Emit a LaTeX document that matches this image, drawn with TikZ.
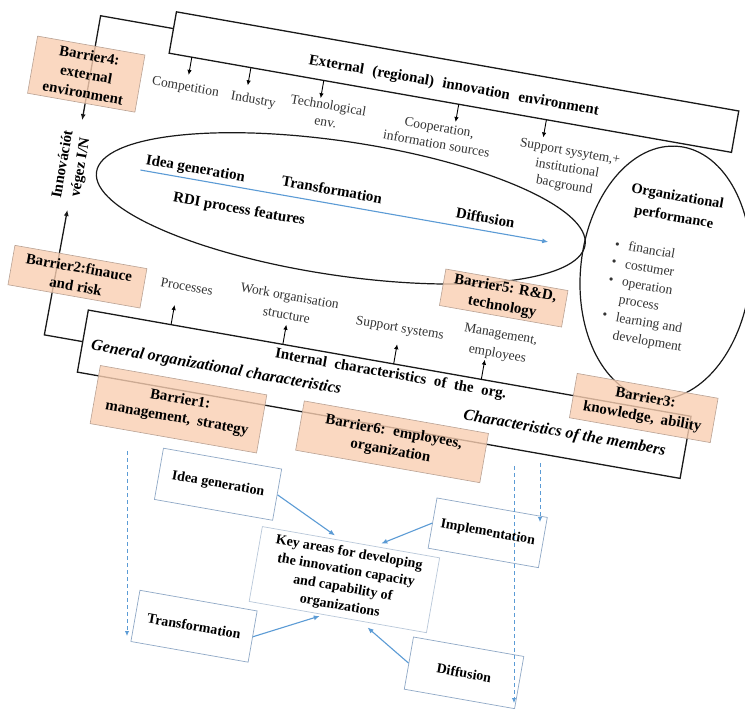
\documentclass[tikz,border=0pt]{standalone}
\usepackage{fontspec}
\setmainfont{Liberation Serif}
\usetikzlibrary{arrows.meta,calc}
\definecolor{peach}{HTML}{F9CFB2}
\definecolor{peachline}{HTML}{B9A294}
\definecolor{lblue}{HTML}{5B9BD5}
\definecolor{boxline}{HTML}{8FA8C6}
\definecolor{keyline}{HTML}{B9C8DA}
\definecolor{lbl}{HTML}{333333}
\begin{document}
\begin{tikzpicture}[x=1pt,y=-1pt,
  frame/.style={draw=black!90, line width=1.3pt},
  barrier/.style={draw=peachline, line width=0.6pt, fill=peach, fill opacity=0.8, text opacity=1, inner sep=0pt, align=center, font=\fontsize{15}{19}\selectfont\bfseries},
  lab/.style={text=lbl, align=center, inner sep=0pt, font=\fontsize{13.5}{17}\selectfont},
  boldtxt/.style={align=center, inner sep=0pt, font=\fontsize{15}{19}\selectfont\bfseries},
  bitalic/.style={inner sep=0pt, font=\fontsize{16}{19}\selectfont\bfseries\itshape},
  kbox/.style={draw=boxline, line width=0.7pt, fill=white, inner sep=0pt, align=center, font=\fontsize{14}{18}\selectfont\bfseries},
  bk/.style={-{Latex[length=5pt,width=4.5pt]}, line width=0.9pt},
  fr/.style={-{Latex[length=6pt,width=5pt]}},
  bl/.style={-{Latex[length=6pt,width=5pt]}, draw=lblue, line width=1.1pt},
  dsh/.style={-{Latex[length=5pt,width=4.5pt]}, draw=lblue, line width=0.9pt, dash pattern=on 4pt off 3pt}
]
\fill[white] (0,0) rectangle (745,709);
\useasboundingbox (0,0) rectangle (745,709);

\begin{scope}[rotate around={-10:(372,354)}, transform shape]
  % bars
  \node[frame, fill=white, minimum width=571pt, minimum height=42pt, inner sep=0pt] (topbar) at (405.5,72) {};
  \node[boldtxt] (ext) at (406,76) {External\hspace{5pt} (regional)\hspace{5pt} innovation\hspace{5pt} environment};
  \node[frame, minimum width=612pt, minimum height=63pt, inner sep=0pt] (botbar) at (391,391.5) {};

  % left frame
  \coordinate (fa) at (120,68);
  \coordinate (fb) at (46,68);
  \coordinate (fdn) at (46,174);
  \coordinate (fc) at (46,392);
  \coordinate (fd) at (85,392);
  \coordinate (fup) at (47,265);
  \draw[frame, fr] (fa) -- (fb) -- (fdn);
  \draw[frame, fr] (fd) -- (fc) -- (fup);
  \node[boldtxt, rotate=90, font=\fontsize{15}{18}\selectfont\bfseries] (inno) at (44,221) {Innovációt\\végez I/N};

  % ellipses
  \begin{scope}[shift={(316,216)}, rotate=1.5]
    \draw[frame, line width=1.2pt] (0,0) ellipse [x radius=247, y radius=67];
  \end{scope}
  \begin{scope}[shift={(647,223)}, rotate=4]
    \draw[frame, line width=1.2pt] (0,0) ellipse [x radius=85, y radius=127];
  \end{scope}

  % RDI process
  \coordinate (rA) at (112,213);
  \coordinate (rB) at (526,213);
  \draw[bl] (rA) -- (rB);
  \node[boldtxt] (rdi1) at (166,203) {Idea generation};
  \node[boldtxt] (rdi2) at (304,199) {Transformation};
  \node[boldtxt] (rdi3) at (460,200) {Diffusion};
  \node[boldtxt] (rdi4) at (216,235) {RDI process features};

  % organizational performance
  \node[boldtxt, font=\fontsize{14.5}{21}\selectfont\bfseries] (orgp) at (645.5,157) {Organizational\\performance};
  \node[lab, anchor=west, align=left, font=\fontsize{13.5}{18}\selectfont] (orgl) at (592,249)
    {\begin{tabular}{@{}c@{\hspace{9pt}}l@{}}
      \textbullet & financial\\
      \textbullet & costumer\\
      \textbullet & operation\\
                  & process\\
      \textbullet & learning and\\
                  & development
     \end{tabular}};

  % external labels
  \node[lab] (l1) at (142,124) {Competition};
  \node[lab] (l2) at (211,125) {Industry};
  \node[lab] (l3) at (286,125) {Technological\\env.};
  \node[lab] (l4) at (399,127.5) {Cooperation,\\information sources};
  \node[lab] (l5) at (532,138) {Support sysytem,+\\institutional\\bacground};
  \foreach \i/\x in {1/143,2/203,3/277,4/414,5/503}{
    \coordinate (ta\i) at (\x,93);
    \coordinate (tb\i) at (\x,111);
    \draw[bk] (ta\i) -- (tb\i);
  }

  % internal labels
  \node[lab] (m1) at (178,320) {Processes};
  \node[lab, font=\fontsize{13.5}{19}\selectfont] (m2) at (281,320.5) {Work organisation\\structure};
  \node[lab] (m3) at (395,324.5) {Support systems};
  \node[lab, font=\fontsize{13.5}{20}\selectfont] (m4) at (495.5,323) {Management,\\employees};
  \foreach \i/\x in {1/169,2/282.5,3/395,4/484}{
    \coordinate (ma\i) at (\x,360);
    \coordinate (mb\i) at (\x,340);
    \draw[bk] (ma\i) -- (mb\i);
  }

  % bottom bar texts
  \node[boldtxt] (intc) at (394,371) {Internal\hspace{4pt} characteristics\hspace{4pt} of\hspace{4pt} the\hspace{4pt} org.};
  \node[bitalic, anchor=west] (gen) at (94,395) {General organizational characteristics};
  \node[bitalic, anchor=east] (mem) at (678,399) {Characteristics of the members};

  % barriers
  \node[barrier, minimum width=109pt, minimum height=58pt] (b4) at (42,128) {Barrier4:\\external\\environment};
  \node[barrier, minimum width=134pt, minimum height=40pt] (b2) at (68.5,329) {Barrier2:finauce\\and risk};
  \node[barrier, minimum width=124pt, minimum height=37pt] (b5) at (492,276) {Barrier5: R\&D,\\technology};
  \node[barrier, minimum width=143pt, minimum height=45pt] (b3) at (649,360) {Barrier3:\\knowledge,\hspace{3pt} ability};
  \node[barrier, minimum width=169pt, minimum height=59pt] (b1) at (191,442) {Barrier1:\\management,\hspace{3pt} strategy};
  \node[barrier, minimum width=187pt, minimum height=50pt] (b6) at (407,437) {Barrier6:\hspace{3pt} employees,\\organization};

  % key areas
  \node[kbox, draw=keyline, minimum width=180pt, minimum height=76pt] (key) at (384,581)
    {Key areas for developing\\the innovation capacity\\and capability of\\organizations};
  \node[kbox, minimum width=120pt, minimum height=52pt] (idea) at (243,509) {Idea generation};
  \node[kbox, minimum width=112pt, minimum height=51pt] (impl) at (517,510) {Implementation};
  \node[kbox, minimum width=119pt, minimum height=52pt] (trans) at (244,653) {Transformation};
  \node[kbox, minimum width=112pt, minimum height=53pt] (diff) at (518,652) {Diffusion};
  \coordinate (kA) at (367,539);
  \coordinate (kB) at (414,539);
  \coordinate (kC) at (366,621);
  \coordinate (kD) at (415,624);
  \draw[bl] (idea.east) -- (kA);
  \draw[bl] (impl.west) -- (kB);
  \draw[bl] (trans.east) -- (kC);
  \draw[bl] (diff.west) -- (kD);
\end{scope}

% dashed arrows (vertical in the picture)
\coordinate (dA1) at (127,451);
\coordinate (dA2) at (127,636);
\coordinate (dB1) at (514,466);
\coordinate (dB2) at (514,703);
\coordinate (dC1) at (540,463);
\coordinate (dC2) at (540,522);
\draw[dsh] (dA1) -- (dA2);
\draw[dsh] (dB1) -- (dB2);
\draw[dsh] (dC1) -- (dC2);
\end{tikzpicture}
\end{document}
